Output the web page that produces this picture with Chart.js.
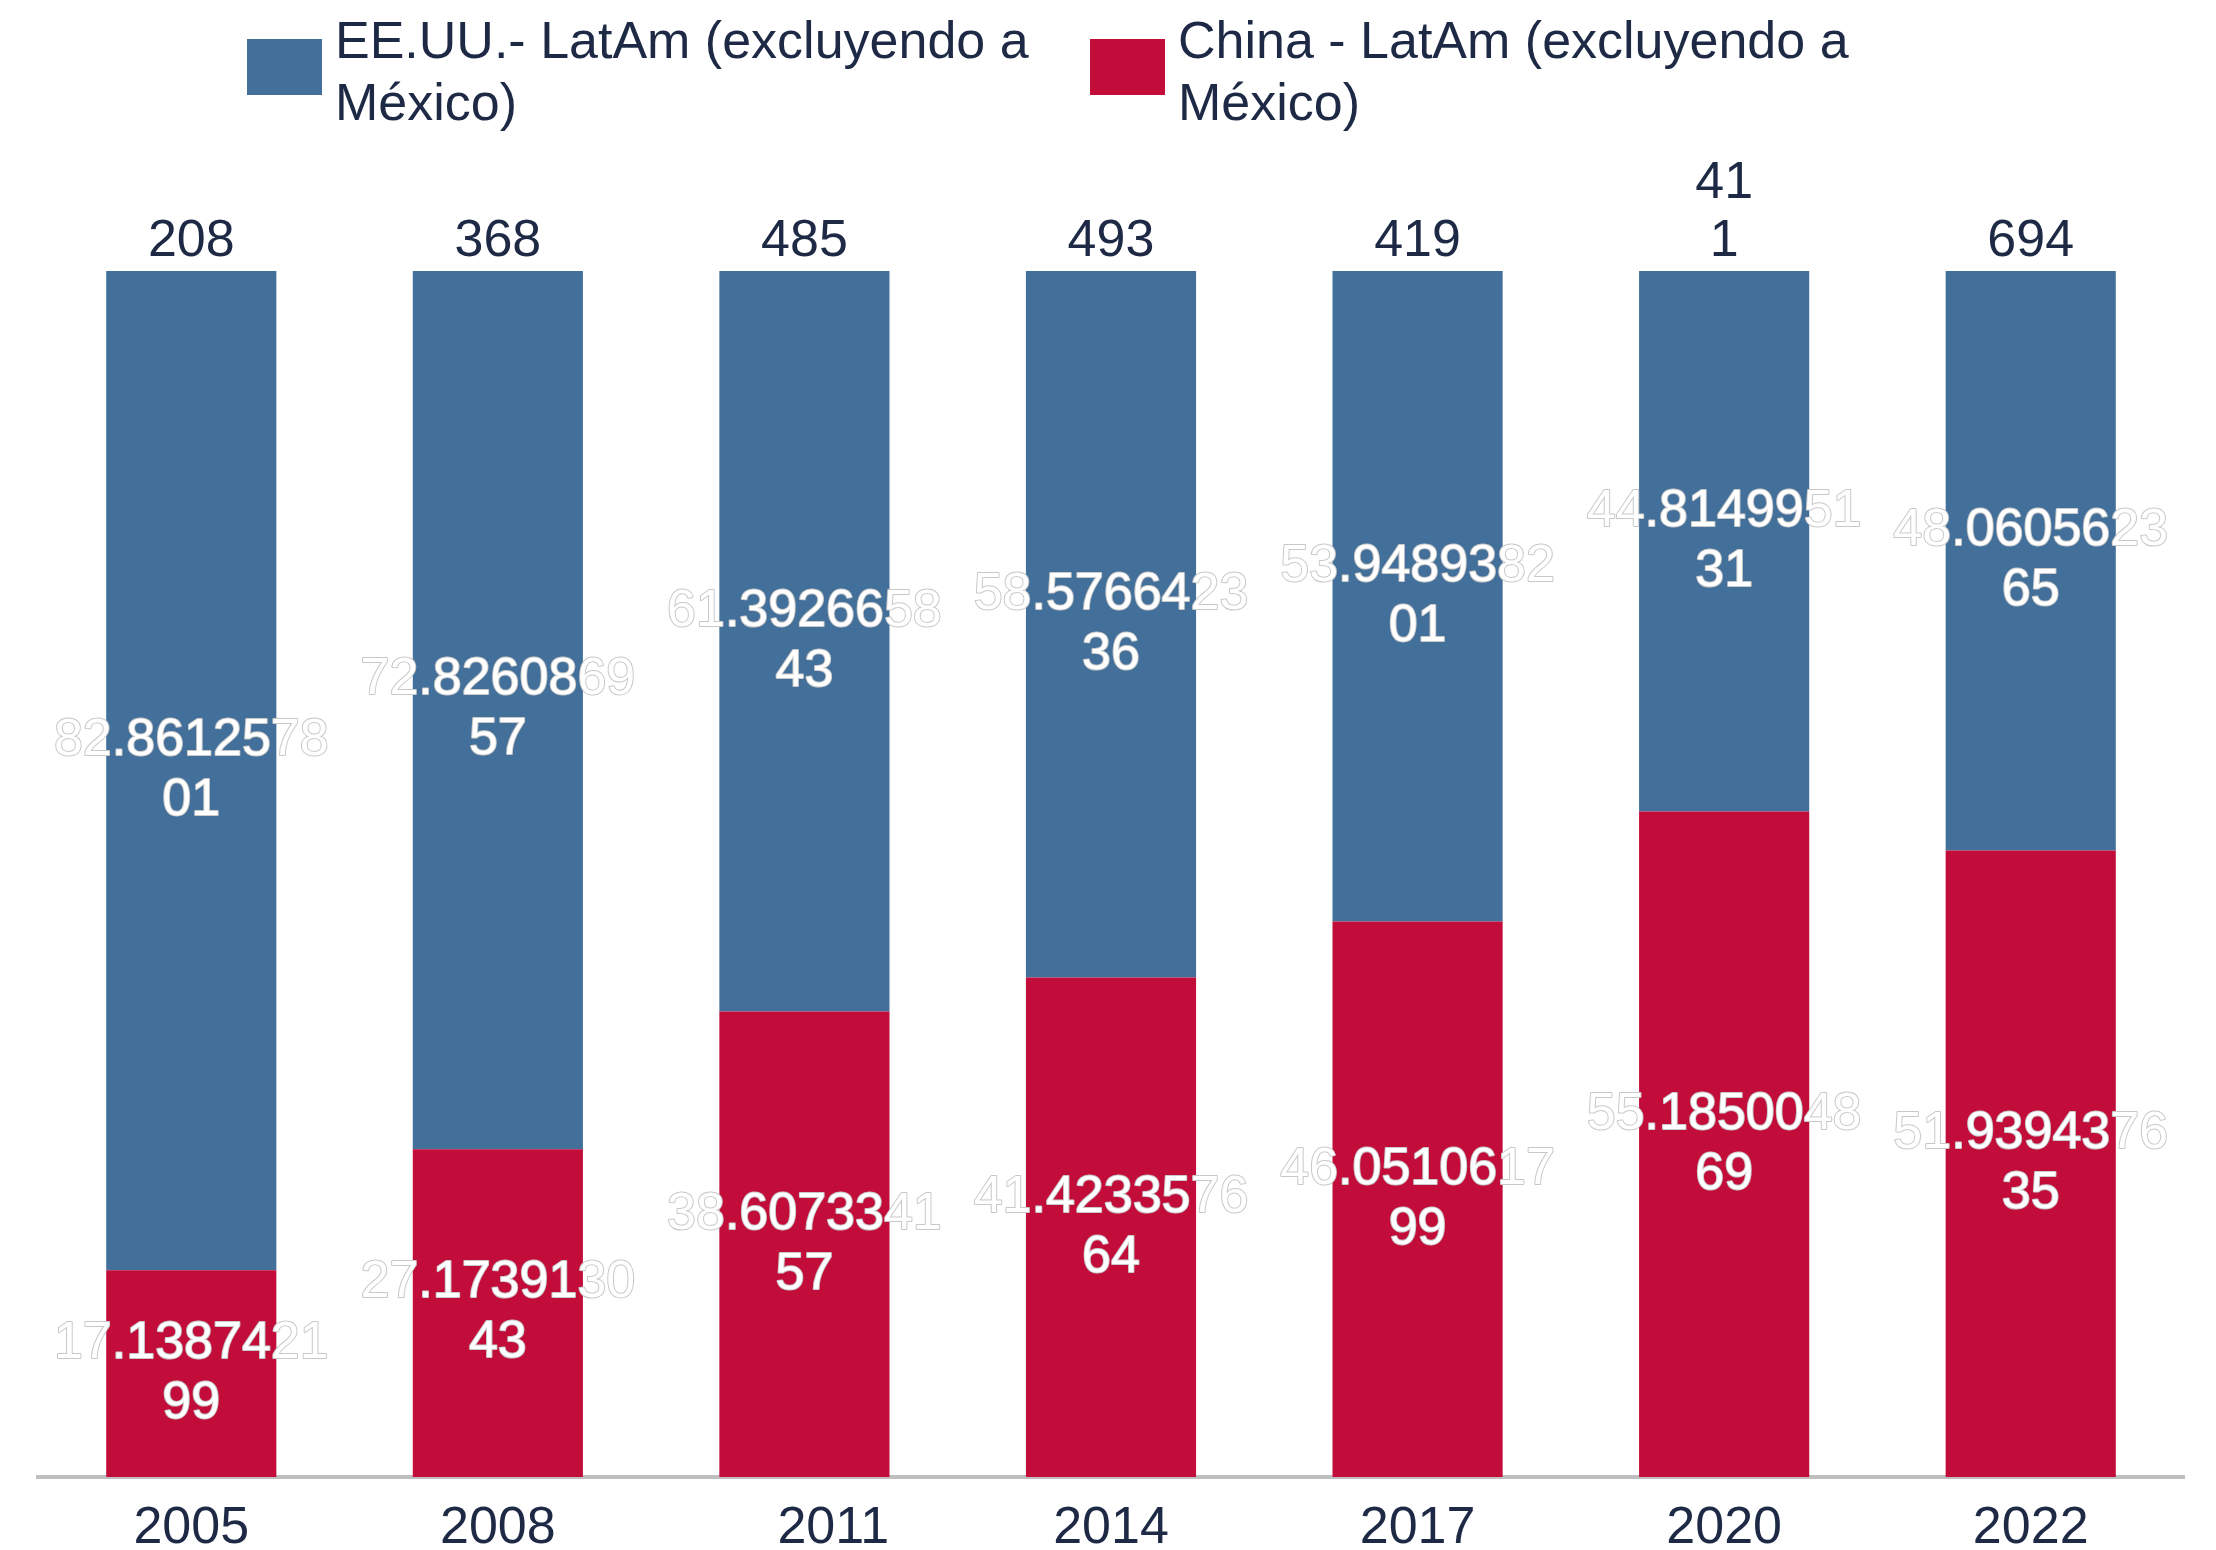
<!DOCTYPE html>
<html>
<head>
<meta charset="utf-8">
<script src="https://cdn.jsdelivr.net/npm/chart.js@4.4.0/dist/chart.umd.min.js"></script>
<style>
  body { margin: 0; background: #fff; }
  canvas { display: block; }
</style>
</head>
<body>
<canvas id="chart" width="2216" height="1550"></canvas>
<script>
// datos (% del comercio)
const categories = ['2005', '2008', '    2011', '2014', '2017', '2020', '2022'];
const usShare = [82.861257801, 72.826086957, 61.392665843, 58.576642336, 53.948938201, 44.814995131, 48.060562365];
const chinaShare = [17.138742199, 27.173913043, 38.607334157, 41.423357664, 46.051061799, 55.185004869, 51.939437635];
const totalLabels = ['208', '368', '485', '493', '419', '41\n1', '694'];
const seriesNames = ['EE.UU.- LatAm (excluyendo a México)', 'China - LatAm (excluyendo a México)'];

const BLUE = '#43709a';
const RED = '#c20d3a';
const NAVY = '#1e2a45';
const FONT = "'Liberation Sans', Arial, sans-serif";

// parte el texto en lineas que caben en maxW
function wrap(ctx, text, maxW) {
  const words = text.split(' ');
  const lines = [];
  let cur = '';
  words.forEach(w => {
    const test = cur ? cur + ' ' + w : w;
    if (ctx.measureText(test).width > maxW && cur) {
      lines.push(cur);
      cur = w;
    } else {
      cur = test;
    }
  });
  if (cur) lines.push(cur);
  return lines;
}

const legendPlugin = {
  id: 'legendBoxes',
  afterDraw(chart) {
    const ctx = chart.ctx;
    const items = [
      { name: seriesNames[0], color: BLUE, x: 247 },
      { name: seriesNames[1], color: RED, x: 1090 }
    ];
    ctx.save();
    ctx.font = '52px ' + FONT;
    ctx.textBaseline = 'alphabetic';
    ctx.textAlign = 'left';
    items.forEach(it => {
      ctx.fillStyle = it.color;
      ctx.fillRect(it.x, 39, 75, 56);
      ctx.fillStyle = NAVY;
      wrap(ctx, it.name, 720).forEach((line, i) => {
        ctx.fillText(line, it.x + 88, 58 + i * 62);
      });
    });
    ctx.restore();
  }
};

const labelPlugin = {
  id: 'barLabels',
  afterDatasetsDraw(chart) {
    const ctx = chart.ctx;
    ctx.save();
    ctx.font = '52px ' + FONT;
    ctx.textAlign = 'center';
    ctx.textBaseline = 'middle';
    ctx.lineJoin = 'round';
    // valores dentro de las barras (blanco con contorno gris)
    chart.data.datasets.forEach((ds, di) => {
      const meta = chart.getDatasetMeta(di);
      meta.data.forEach((bar, i) => {
        const s = ds.data[i].toFixed(9);
        const lines = [s.slice(0, 10), s.slice(10)];
        const cy = (bar.y + bar.base) / 2;
        lines.forEach((line, k) => {
          const y = cy + (k - 0.5) * 60;
          ctx.strokeStyle = '#c8c8c8';
          ctx.lineWidth = 2;
          ctx.strokeText(line, bar.x, y);
          ctx.fillStyle = '#ffffff';
          ctx.fillText(line, bar.x, y);
        });
      });
    });
    // totales arriba
    const top = chart.getDatasetMeta(chart.data.datasets.length - 1);
    ctx.fillStyle = NAVY;
    ctx.textBaseline = 'alphabetic';
    top.data.forEach((bar, i) => {
      const lines = totalLabels[i].split('\n');
      lines.forEach((line, k) => {
        ctx.fillText(line, bar.x, bar.y - 15 - (lines.length - 1 - k) * 58);
      });
    });
    ctx.restore();
  }
};

new Chart(document.getElementById('chart').getContext('2d'), {
  type: 'bar',
  data: {
    labels: categories,
    datasets: [
      { label: seriesNames[1], data: chinaShare, backgroundColor: RED, borderWidth: 0 },
      { label: seriesNames[0], data: usShare, backgroundColor: BLUE, borderWidth: 0 }
    ]
  },
  options: {
    responsive: false,
    animation: false,
    devicePixelRatio: 1,
    layout: { padding: { top: 271, left: 38, right: 32, bottom: 0 } },
    datasets: { bar: { barPercentage: 0.555, categoryPercentage: 1 } },
    plugins: {
      legend: { display: false },
      tooltip: { enabled: false }
    },
    scales: {
      x: {
        stacked: true,
        grid: { display: false, drawTicks: false },
        border: { display: true, color: '#bfbfbf', width: 4 },
        ticks: {
          color: NAVY,
          font: { family: FONT, size: 52, lineHeight: 1 },
          padding: 26,
          maxRotation: 0,
          autoSkip: false
        },
        afterFit(scale) { scale.height = 73; }
      },
      y: { stacked: true, display: false, min: 0, max: 100 }
    }
  },
  plugins: [legendPlugin, labelPlugin]
});
</script>
</body>
</html>
